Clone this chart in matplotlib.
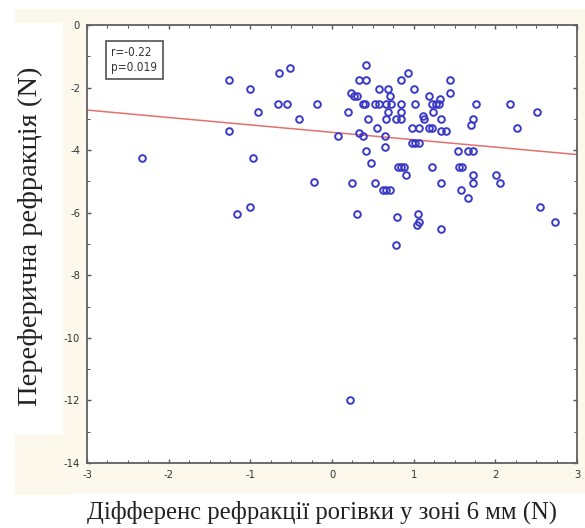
import matplotlib
matplotlib.use("Agg")
import matplotlib.pyplot as plt
from matplotlib.patches import Rectangle
from matplotlib.ticker import MultipleLocator
import numpy as np

plt.rcParams["axes.unicode_minus"] = False

# ---- data ----
x_vals = [-2.33, -1.26, -1.26, -1.01, -0.91, -0.97, -1.16, -1.01, -0.65, -0.51,
          -0.66, -0.55, -0.41, -0.18, -0.22, 0.07, 0.22,
          0.42, 0.33, 0.42, 0.93, 0.84, 1.44, 0.58, 0.68, 1.00, 1.44,
          0.23, 0.27, 0.31, 0.71, 1.19, 1.32,
          0.38, 0.41, 0.53, 0.58, 0.66, 0.72, 0.85, 1.02, 1.22, 1.27, 1.31, 1.76, 2.18,
          0.19, 0.69, 0.85, 1.24, 2.51,
          0.44, 0.66, 0.78, 0.84, 1.11, 1.13, 1.33, 1.73, 1.70,
          0.55, 0.98, 1.07, 1.19, 1.23, 1.33, 1.40, 2.27,
          0.33, 0.38, 0.65, 0.98, 1.02, 1.06, 0.42, 0.65, 1.54, 1.66, 1.73,
          0.48, 0.81, 0.85, 0.88, 0.90, 1.22, 1.56, 1.59, 1.73, 2.01,
          0.24, 0.53, 1.34, 1.73, 2.06, 0.63, 0.66, 0.71, 1.58, 1.66, 2.55,
          0.30, 0.79, 1.05, 1.07, 1.04, 1.34, 2.73, 0.78]
y_vals = [-4.26, -1.76, -3.39, -2.05, -2.77, -4.26, -6.04, -5.81, -1.52, -1.38,
          -2.52, -2.52, -3.00, -2.52, -5.03, -3.54, -12.0,
          -1.28, -1.76, -1.76, -1.52, -1.76, -1.76, -2.03, -2.03, -2.03, -2.18,
          -2.16, -2.27, -2.27, -2.27, -2.27, -2.37,
          -2.52, -2.52, -2.52, -2.52, -2.52, -2.52, -2.52, -2.52, -2.52, -2.52, -2.52, -2.52, -2.52,
          -2.77, -2.77, -2.77, -2.77, -2.77,
          -3.01, -3.01, -3.01, -3.01, -2.91, -3.01, -3.01, -3.01, -3.20,
          -3.30, -3.30, -3.30, -3.30, -3.30, -3.39, -3.39, -3.30,
          -3.46, -3.55, -3.55, -3.78, -3.78, -3.78, -4.02, -3.89, -4.02, -4.02, -4.02,
          -4.40, -4.55, -4.55, -4.55, -4.79, -4.55, -4.55, -4.55, -4.79, -4.79,
          -5.04, -5.04, -5.04, -5.04, -5.04, -5.27, -5.27, -5.27, -5.27, -5.52, -5.81,
          -6.04, -6.15, -6.04, -6.29, -6.39, -6.53, -6.29, -7.04]

fit_intercept = -3.43
fit_slope = -0.237
stats_text = "r=-0.22\np=0.019"

x_ticks = [-3, -2, -1, 0, 1, 2, 3]
y_ticks = [0, -2, -4, -6, -8, -10, -12, -14]
x_label = "Діфференс рефракції рогівки у зоні 6 мм (N)"
y_label = "Переферична рефракція (N)"

# ---- figure ----
W, H = 585, 528
fig = plt.figure(figsize=(W / 100, H / 100), dpi=100, facecolor="white")

def px_rect(x0, y0, x1, y1, color):
    fig.patches.append(Rectangle((x0 / W, 1 - y1 / H), (x1 - x0) / W, (y1 - y0) / H,
                                 transform=fig.transFigure, facecolor=color,
                                 edgecolor="none", zorder=-10))

cream = "#fcf8ec"
px_rect(15, 9, 585, 495, cream)
px_rect(0, 23, 63, 435, "white")
px_rect(72, 493, 585, 528, "white")

ax = fig.add_axes([87 / W, 1 - 463 / H, 490 / W, 438 / H])
ax.set_facecolor("white")
ax.set_xlim(-3, 3)
ax.set_ylim(-14, 0)

ax.plot(x_vals, y_vals, linestyle="none", marker="o", markersize=4.8,
        markerfacecolor="none", markeredgecolor="#3a3ac4", markeredgewidth=1.4, zorder=3)

lx = np.array([-3, 3])
ax.plot(lx, fit_intercept + fit_slope * lx, color="#e27070", linewidth=1.1, zorder=2)

tick_font = dict(family=["DejaVu Sans"], stretch="condensed")
ax.set_xticks(x_ticks)
ax.set_yticks(y_ticks)
ax.xaxis.set_minor_locator(MultipleLocator(0.25))
ax.yaxis.set_minor_locator(MultipleLocator(1))
ax.tick_params(which="both", direction="in", top=True, right=True, color="#555555")
ax.tick_params(which="major", length=3, width=1.0, labelsize=8, labelcolor="#333333", pad=5)
ax.tick_params(which="minor", length=2, width=0.7)
for lab in ax.get_xticklabels() + ax.get_yticklabels():
    lab.set_family("DejaVu Sans")
    lab.set_stretch("condensed")
for s in ax.spines.values():
    s.set_color("#606060")
    s.set_linewidth(1.3)

ax.text(0.05, 0.952, stats_text, transform=ax.transAxes, ha="left", va="top",
        fontsize=8.5, family="DejaVu Sans", stretch="condensed", color="#333333",
        linespacing=1.2,
        bbox=dict(boxstyle="square,pad=0.45", facecolor="white", edgecolor="#606060",
                  linewidth=1.3))

fig.text(322 / W, 1 - 512 / H, x_label, ha="center", va="center",
         fontsize=17.7, family=["Liberation Serif", "DejaVu Serif"], color="#222222")
fig.text(30 / W, 1 - 236 / H, y_label, ha="center", va="center", rotation=90,
         fontsize=20.5, family=["Liberation Serif", "DejaVu Serif"], color="#222222")

fig.savefig("out.png", dpi=100, facecolor=fig.get_facecolor())
